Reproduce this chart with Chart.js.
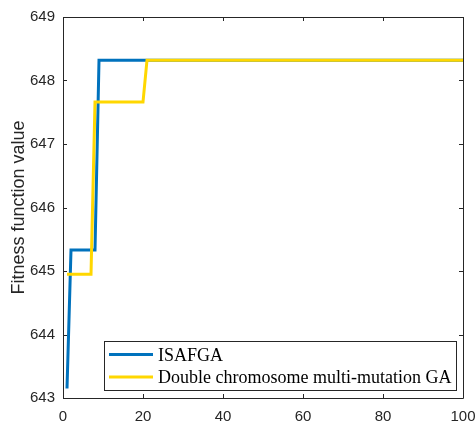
<!DOCTYPE html>
<html>
<head>
<meta charset="utf-8">
<script src="https://cdn.jsdelivr.net/npm/chart.js@4/dist/chart.umd.min.js"></script>
<style>
  html,body{margin:0;padding:0;background:#fff;}
  #wrap{width:475px;height:424px;position:relative;}
</style>
</head>
<body>
<div id="wrap"><canvas id="chart"></canvas></div>
<script>
/* ---------- DATA ---------- */
const seriesNames = ["ISAFGA", "Double chromosome multi-mutation GA"];
const seriesColors = ["#0072BD", "#FFD700"];

// break points of the step curves (iteration -> fitness)
const isafgaIter = [1, 2, 8, 9, 100];
const isafgaFit  = [643.15, 645.33, 645.33, 648.32, 648.32];
const dcmIter = [1, 7, 8, 20, 21, 100];
const dcmFit  = [644.95, 644.95, 647.66, 647.66, 648.32, 648.32];

const xTicks = [0, 20, 40, 60, 80, 100];
const yTicks = [643, 644, 645, 646, 647, 648, 649];
const yTitle = "Fitness function value";

const axisColor = "#262626";

function toPoints(xs, ys){
  return xs.map((x,i)=>({x:x, y:ys[i]}));
}

/* ---------- PLUGINS ---------- */
// MATLAB style box + inward ticks
const boxTicks = {
  id: "boxTicks",
  afterDatasetsDraw(chart){
    const {ctx, chartArea:a, scales:{x, y}} = chart;
    ctx.save();
    ctx.strokeStyle = axisColor;
    ctx.lineWidth = 1;
    ctx.beginPath();
    ctx.rect(Math.round(a.left)+0.5, Math.round(a.top)+0.5, Math.round(a.right-a.left), Math.round(a.bottom-a.top));
    ctx.stroke();
    const len = 4;
    ctx.beginPath();
    xTicks.forEach(v=>{
      const px = Math.round(x.getPixelForValue(v))+0.5;
      ctx.moveTo(px, a.bottom); ctx.lineTo(px, a.bottom-len);
      ctx.moveTo(px, a.top); ctx.lineTo(px, a.top+len);
    });
    yTicks.forEach(v=>{
      const py = Math.round(y.getPixelForValue(v))+0.5;
      ctx.moveTo(a.left, py); ctx.lineTo(a.left+len, py);
      ctx.moveTo(a.right, py); ctx.lineTo(a.right-len, py);
    });
    ctx.stroke();
    ctx.restore();
  }
};

// legend box in the lower right corner of the axes
const boxLegend = {
  id: "boxLegend",
  afterDraw(chart){
    const {ctx} = chart;
    const bx = 104.5, by = 341.5, bw = 352, bh = 49;
    ctx.save();
    ctx.fillStyle = "#fff";
    ctx.fillRect(bx, by, bw, bh);
    ctx.strokeStyle = axisColor;
    ctx.lineWidth = 1;
    ctx.strokeRect(bx, by, bw, bh);
    ctx.font = '18px "Liberation Serif", "Times New Roman", serif';
    ctx.textBaseline = "middle";
    ctx.fillStyle = "#000";
    chart.data.datasets.forEach((ds,i)=>{
      const ly = 354.5 + i*22.5;
      ctx.strokeStyle = ds.borderColor;
      ctx.lineWidth = 3;
      ctx.beginPath();
      ctx.moveTo(109, ly); ctx.lineTo(153, ly);
      ctx.stroke();
      ctx.fillText(ds.label, 158, ly+1.5);
    });
    ctx.restore();
  }
};

/* ---------- CHART ---------- */
const ctx = document.getElementById("chart").getContext("2d");
new Chart(ctx, {
  type: "line",
  data: {
    datasets: [
      {label: seriesNames[0], data: toPoints(isafgaIter, isafgaFit), borderColor: seriesColors[0], borderWidth: 3, pointRadius: 0, order: 1},
      {label: seriesNames[1], data: toPoints(dcmIter, dcmFit), borderColor: seriesColors[1], borderWidth: 3, pointRadius: 0, order: 0}
    ]
  },
  options: {
    responsive: true,
    maintainAspectRatio: false,
    animation: false,
    layout: {padding: {top: 15, right: 0, left: 0, bottom: 0}},
    plugins: {legend: {display: false}, tooltip: {enabled: false}},
    elements: {line: {tension: 0, borderCapStyle: "butt", borderJoinStyle: "miter"}},
    scales: {
      x: {
        type: "linear", min: 0, max: 100,
        afterBuildTicks: s => { s.ticks = xTicks.map(v=>({value:v})); },
        grid: {display: false, drawTicks: false},
        border: {display: false},
        ticks: {color: axisColor, font: {family: "Liberation Sans, Arial", size: 15}, padding: 10, maxRotation: 0},
        afterFit: s => { s.height = 26; s.paddingRight = 12; }
      },
      y: {
        type: "linear", min: 643, max: 649,
        afterBuildTicks: s => { s.ticks = yTicks.map(v=>({value:v})); },
        grid: {display: false, drawTicks: false},
        border: {display: false},
        ticks: {color: axisColor, font: {family: "Liberation Sans, Arial", size: 15}, padding: 8},
        title: {display: true, text: yTitle, color: axisColor, font: {family: "Liberation Sans, Arial", size: 18}, padding: {top: 8, bottom: 0}},
        afterFit: s => { s.width = 63; }
      }
    }
  },
  plugins: [boxTicks, boxLegend]
});
</script>
</body>
</html>
